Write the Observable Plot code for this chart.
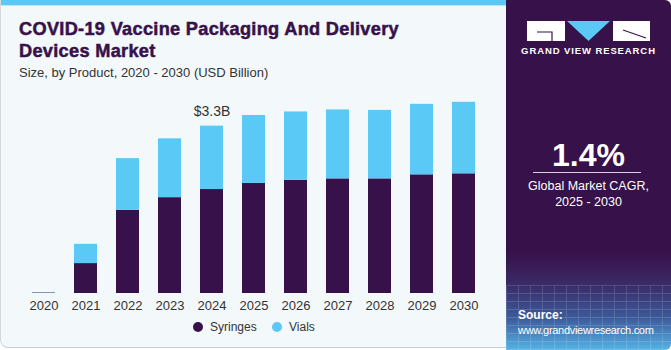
<!DOCTYPE html>
<html>
<head>
<meta charset="utf-8">
<script src="https://cdn.jsdelivr.net/npm/d3@7"></script>
<script src="https://cdn.jsdelivr.net/npm/@observablehq/plot@0.6"></script>
<style>
  html, body { margin: 0; padding: 0; }
  body { width: 671px; height: 350px; position: relative; overflow: hidden; background: #ffffff; font-family: "Liberation Sans", Arial, sans-serif; }
  #left { position: absolute; left: 0; top: 0; width: 520px; height: 348px; background: #f3f8fb; border-radius: 0 0 8px 8px; border-bottom: 1px solid #c9ccd0; border-left: 1px solid #d6d9dc; box-sizing: border-box; }
  #stripe { position: absolute; left: 0; top: 0; width: 510px; height: 5px; background: #5bc9f5; }
  #stripe2 { position: absolute; left: 0; top: 5px; width: 510px; height: 1px; background: #bfe6f8; }
  #title { position: absolute; left: 18px; top: 18px; font-family: "Liberation Sans", Arial, sans-serif; font-weight: 900; font-size: 18.2px; line-height: 22px; color: #37114a; letter-spacing: 0.3px; -webkit-text-stroke: 0.5px #37114a; }
  #subtitle { position: absolute; left: 18px; top: 65px; font-size: 13px; color: #333; font-family: "Liberation Sans", Arial, sans-serif; }
  #chart { position: absolute; left: 0; top: 79px; }
  #legend { position: absolute; top: 320px; left: 0; width: 500px; font-size: 12px; color: #333; }
  .lg { position: absolute; display: flex; align-items: center; }
  .dot { width: 10px; height: 10px; border-radius: 50%; margin-right: 7px; }
  #right { position: absolute; left: 506px; top: 0; width: 165px; height: 350px; border-radius: 0 6px 6px 0;
    background: linear-gradient(to bottom, #37114a 0%, #37114a 72%, #3a2a66 81%, #3d5c9c 91%, #55b4e6 100%); overflow: hidden; }
  #right .grid { position: absolute; left: 0; top: 285px; width: 165px; height: 65px; opacity: 0.14;
    background-image: linear-gradient(#ffffff 1px, transparent 1px), linear-gradient(90deg, #ffffff 1px, transparent 1px);
    background-size: 12px 8px; }
  #gvr { position: absolute; left: 0; top: 45px; width: 165px; text-align: center; color: #fff; font-weight: bold; font-size: 9.5px; letter-spacing: 0.9px; }
  #cagr { position: absolute; left: 0; top: 137px; width: 165px; text-align: center; color: #fff; font-weight: bold; font-size: 32px; }
  #rule { position: absolute; left: 27px; top: 172px; width: 108px; height: 1px; background: #d8d0e0; }
  #cagrlab { position: absolute; left: 0; top: 178px; width: 165px; text-align: center; color: #fff; font-size: 12.5px; line-height: 16px; }
  #src { position: absolute; left: 12px; top: 308px; color: #fff; font-size: 11px; line-height: 15px; letter-spacing: -0.3px; }
  #src b { font-size: 12px; letter-spacing: 0; }
</style>
</head>
<body>
<div id="left">
  <div id="stripe"></div><div id="stripe2"></div>
  <div id="title">COVID-19 Vaccine Packaging And Delivery<br>Devices Market</div>
  <div id="subtitle">Size, by Product, 2020 - 2030 (USD Billion)</div>
  <div id="chart"></div>
  <div id="legend"></div>
</div>
<div id="right">
  <div class="grid"></div>
  <svg style="position:absolute;left:0;top:0" width="165" height="45">
    <rect x="21" y="21" width="38" height="20" fill="#ffffff"/>
    <path d="M31 32 H46 V41" stroke="#37114a" stroke-width="1.2" fill="none"/>
    <polygon points="61,21 104,21 82.5,41" fill="#5bc9f5"/>
    <rect x="107" y="21" width="37" height="20" fill="#ffffff"/>
    <path d="M117 30 L140 38" stroke="#37114a" stroke-width="1.2" fill="none"/>
  </svg>
  <div id="gvr">GRAND VIEW RESEARCH</div>
  <div id="cagr">1.4%</div>
  <div id="rule"></div>
  <div id="cagrlab">Global Market CAGR,<br>2025 - 2030</div>
  <div id="src"><b>Source:</b><br>www.grandviewresearch.com</div>
</div>
<script>
const years = ["2020","2021","2022","2023","2024","2025","2026","2027","2028","2029","2030"];
const syringes = [0.01, 0.59, 1.64, 1.89, 2.05, 2.17, 2.23, 2.26, 2.26, 2.34, 2.36];
const vials    = [0.005, 0.38, 1.02, 1.16, 1.25, 1.34, 1.35, 1.36, 1.35, 1.39, 1.41];
const seriesNames = ["Syringes", "Vials"];
const seriesColors = ["#37114a", "#5bc9f5"];
const annotationYear = "2024";
const annotationText = "$3.3B";

const data = [];
years.forEach((y, i) => {
  data.push({year: y, product: "Syringes", value: syringes[i]});
  data.push({year: y, product: "Vials", value: vials[i]});
});
const totals = years.map((y, i) => ({year: y, total: syringes[i] + vials[i]}));
const ann = totals.filter(d => d.year === annotationYear);

const chart = Plot.plot({
  width: 500,
  height: 240,
  marginLeft: 12,
  marginRight: 6,
  marginTop: 1,
  marginBottom: 26,
  style: {background: "transparent", fontFamily: "Liberation Sans, Arial, sans-serif"},
  x: {domain: years, padding: 0.45, label: null, tickSize: 0, tickPadding: 6},
  y: {domain: [0, 4.2], axis: null},
  color: {domain: seriesNames, range: seriesColors},
  marks: [
    Plot.barY(data, {x: "year", y: "value", fill: "product", order: seriesNames}),
    Plot.text(ann, {x: "year", y: "total", text: () => annotationText, dy: -15, fontSize: 14, fill: "#333"}),
    Plot.axisX({tickSize: 0, tickPadding: 7, fontSize: 13, fill: "#333", label: null})
  ]
});
document.getElementById("chart").appendChild(chart);

const legend = document.getElementById("legend");
const legendX = [192, 271];
seriesNames.forEach((n, i) => {
  const el = document.createElement("div");
  el.className = "lg";
  el.style.left = legendX[i] + "px";
  el.innerHTML = `<span class="dot" style="background:${seriesColors[i]}"></span><span>${n}</span>`;
  legend.appendChild(el);
});
</script>
</body>
</html>
